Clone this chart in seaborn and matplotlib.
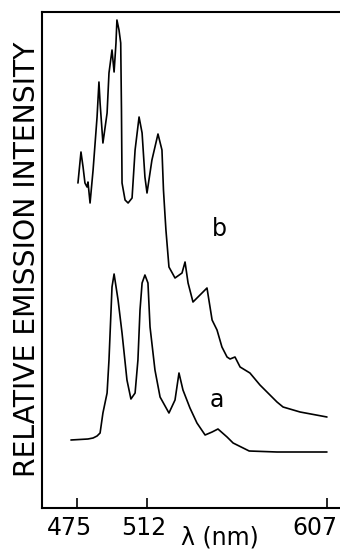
import numpy as np
import pandas as pd
import matplotlib
matplotlib.use("Agg")
import matplotlib.pyplot as plt
import matplotlib.transforms as mtransforms
import seaborn as sns

# Spektrum a (untere Kurve): Wellenlaenge in nm, relative Intensitaet
wl_a = [471.8, 480.8, 483.5, 485.6, 487.2, 488.7, 490.9, 491.9, 493.0, 493.5,
        494.6, 496.7, 498.8, 501.4, 503.5, 505.7, 507.2, 508.3, 509.4, 510.9,
        512.5, 513.6, 516.2, 518.9, 523.6, 526.8, 528.9, 531.0, 534.7, 538.4,
        542.7, 546.4, 549.5, 554.3, 557.5, 566.0, 580.7, 607.1]
int_a = [68, 69, 70, 72, 75, 95, 115, 148, 198, 221,
         234, 208, 175, 128, 109, 115, 148, 198, 225, 233,
         225, 181, 138, 111, 95, 108, 135, 118, 100, 85,
         73, 76, 79, 71, 65, 57, 56, 56]

# Spektrum b (obere Kurve)
wl_b = [475.5, 477.1, 478.2, 479.2, 480.3, 480.8, 481.9, 483.5, 485.6, 486.6,
        487.2, 488.7, 490.9, 491.9, 493.5, 494.6, 495.6, 496.1, 497.2, 498.1,
        498.5, 498.8, 500.4, 502.0, 504.1, 505.7, 507.8, 509.4, 510.9, 512.0,
        514.6, 517.8, 519.9, 520.7, 521.5, 522.0, 523.6, 526.8, 530.5, 532.1,
        533.7, 536.3, 540.0, 543.7, 546.4, 549.0, 551.6, 554.3, 555.9, 558.5,
        561.2, 566.4, 571.7, 580.7, 583.9, 592.9, 607.1]
int_b = [325, 356, 341, 325, 321, 326, 305, 338, 391, 426,
         405, 365, 395, 435, 458, 436, 465, 488, 478, 465,
         398, 325, 308, 305, 310, 358, 391, 375, 331, 315,
         348, 374, 358, 318, 293, 278, 241, 230, 235, 246,
         225, 206, 213, 220, 188, 178, 161, 151, 149, 151,
         141, 135, 123, 106, 101, 96, 91]

tick_pos = [475, 512, 607]
tick_labels = ["475", "512", "607"]

df_a = pd.DataFrame({"wl": wl_a, "intensity": int_a})
df_b = pd.DataFrame({"wl": wl_b, "intensity": int_b})

sns.set_style("white")
plt.rcParams["text.color"] = "black"
narrow = ["Liberation Sans Narrow", "DejaVu Sans"]

fig = plt.figure(figsize=(3.4, 5.5), dpi=100)
ax = fig.add_axes([42 / 340, 42 / 550, 1 - 42 / 340, 496 / 550])

sns.lineplot(data=df_a, x="wl", y="intensity", ax=ax, color="black",
             linewidth=1.2, sort=False, estimator=None)
sns.lineplot(data=df_b, x="wl", y="intensity", ax=ax, color="black",
             linewidth=1.2, sort=False, estimator=None)

ax.set_xlim(456.5, 614.0)
ax.set_ylim(0, 496)
ax.set_xlabel("")
ax.set_ylabel("")
ax.set_yticks([])
ax.set_xticks(tick_pos)
ax.set_xticklabels(tick_labels, family=narrow, fontsize=17, color="black")
ax.tick_params(axis="x", direction="in", length=7, width=1.2, pad=6,
               bottom=True, colors="black")

# Beschriftungen leicht nach links schieben wie im Original
shifts = [-8, -3, -12]
for lbl, dx in zip(ax.get_xticklabels(), shifts):
    lbl.set_transform(lbl.get_transform() +
                      mtransforms.ScaledTranslation(dx / 100, 0, fig.dpi_scale_trans))

for side in ["left", "bottom", "top"]:
    ax.spines[side].set_color("black")
    ax.spines[side].set_linewidth(1.5)
ax.spines["right"].set_visible(False)

# Kurvenbeschriftungen
ax.text(550, 279, "b", fontsize=17, family=narrow, ha="center", va="center", color="black")
ax.text(549, 108, "a", fontsize=17, family=narrow, ha="center", va="center", color="black")

fig.text(27 / 340, 1 - 259 / 550, "RELATIVE EMISSION INTENSITY", rotation=90,
         ha="center", va="center", fontsize=20.3, family=narrow, color="black")
fig.text(220 / 340, 1 - 538 / 550, "λ (nm)", ha="center", va="center",
         fontsize=17, family=narrow, color="black")

fig.savefig("out.png", dpi=100)
